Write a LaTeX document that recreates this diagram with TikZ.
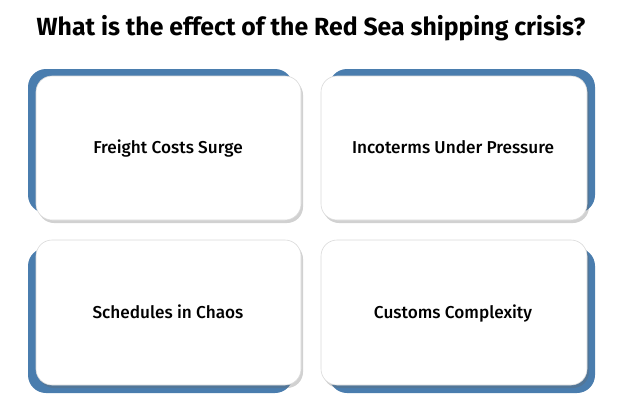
\documentclass[tikz,border=0pt]{standalone}
\usepackage{fontspec}
\setmainfont{Fira Sans}
\newfontfamily\medfont{Fira Sans Medium}
\usetikzlibrary{shadows}
\definecolor{cardblue}{HTML}{4A7DAE}
\definecolor{cardline}{HTML}{DADADA}
\tikzset{
  backcard/.style={fill=cardblue, rounded corners=18pt},
  card/.style={fill=white, draw=cardline, line width=0.6pt, rounded corners=16pt,
    drop shadow={shadow xshift=2pt, shadow yshift=-3pt, opacity=0.3, fill=black!60}},
  label/.style={font=\medfont\fontsize{17.2}{19}\selectfont, text=black, anchor=base, inner sep=0pt},
  titletext/.style={font=\fontsize{24.8}{28}\selectfont\bfseries, text=black}
}
\begin{document}
\begin{tikzpicture}[x=1pt,y=-1pt]
\useasboundingbox (0,0) rectangle (639,410);
\node[titletext] (title) at (311,28) {What is the effect of the Red Sea shipping crisis?};
% back blue shapes
\path[backcard] (28,69) rectangle (293,213);
\path[backcard] (329,69) rectangle (595,213);
\path[backcard] (28,248) rectangle (293,393);
\path[backcard] (329,248) rectangle (595,393);
% white cards
\path[card] (36,76) rectangle (301,220);
\path[card] (321,76) rectangle (587,220);
\path[card] (36,240) rectangle (301,385);
\path[card] (321,240) rectangle (587,385);
\node[label] (t1) at (168,153) {Freight Costs Surge};
\node[label] (t2) at (453,153) {Incoterms Under Pressure};
\node[label] (t3) at (168,318) {Schedules in Chaos};
\node[label] (t4) at (453,318) {Customs Complexity};
\end{tikzpicture}
\end{document}
